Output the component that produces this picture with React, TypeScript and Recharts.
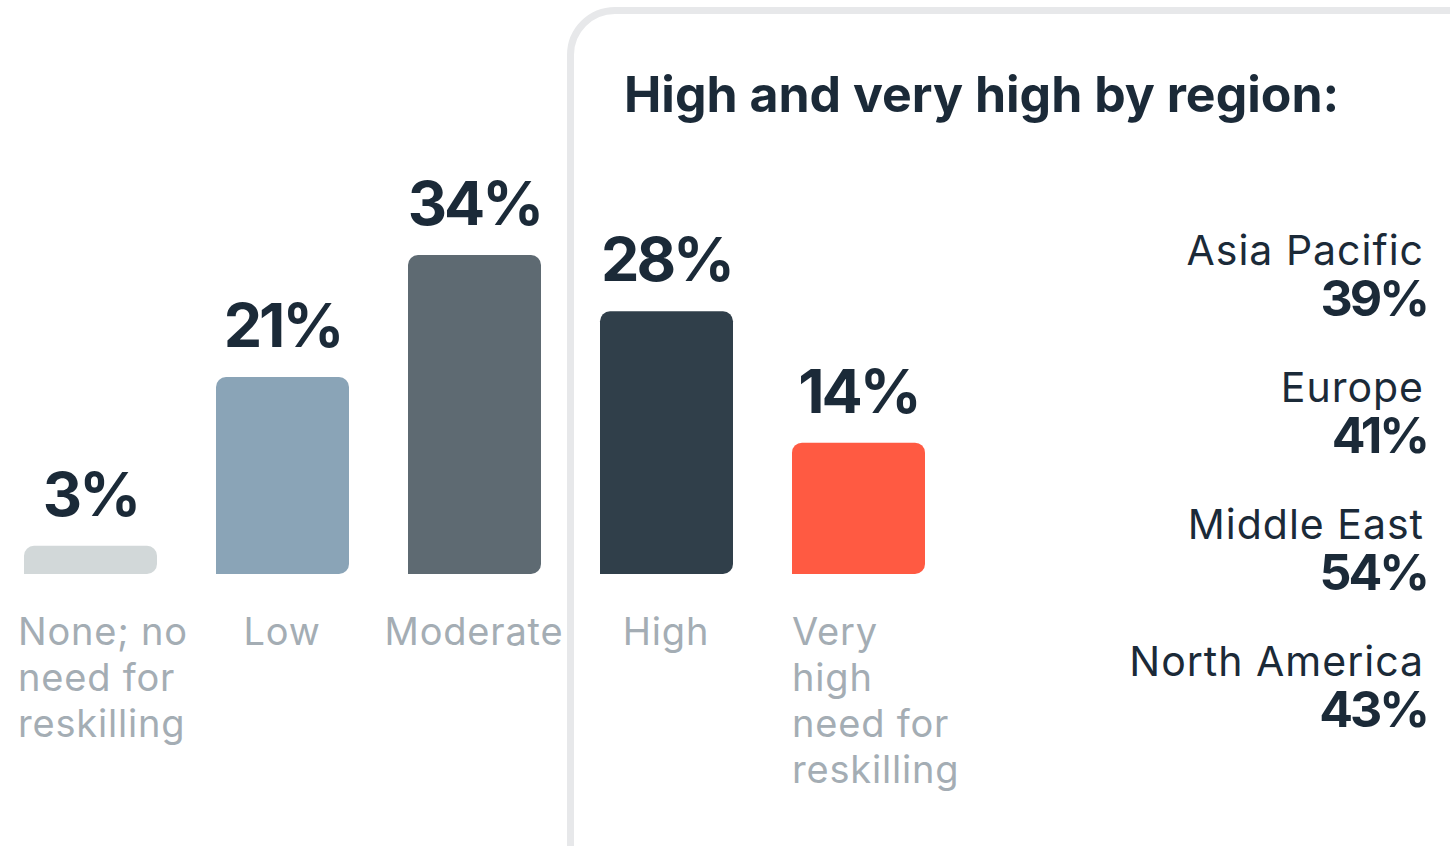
import React from "react";
import { BarChart, Bar, XAxis, YAxis, Cell, LabelList } from "recharts";

const categories = [
  "None; no\nneed for\nreskilling",
  "Low",
  "Moderate",
  "High",
  "Very\nhigh\nneed for\nreskilling",
];
const shares = [3, 21, 34, 28, 14];
const barColors = ["#d2d8d9", "#8aa4b7", "#5e6a72", "#303f4a", "#ff5a42"];

const regions = ["Asia Pacific", "Europe", "Middle East", "North America"];
const regionShares = [39, 41, 54, 43];

const data = categories.map((category, i) => ({
  category,
  value: shares[i],
}));

const ink = "#1b2a38";
const font = "Inter, 'Noto Sans', sans-serif";

function CategoryTick(props: any) {
  const { x, y, payload, index } = props;
  const lines = String(payload.value).split("\n");
  const multi = lines.length > 1;
  // wrapped labels sit left-aligned near the bar's left edge
  const tx = multi ? x - (index === 0 ? 72 : 66) : x;
  return (
    <text
      x={tx}
      y={y + 69}
      textAnchor={multi ? "start" : "middle"}
      fill="#a4adb4"
      fontSize={38}
      letterSpacing={0.8}
      fontFamily={font}
    >
      {lines.map((line, i) => (
        <tspan key={i} x={tx} dy={i === 0 ? 0 : 46}>
          {line}
        </tspan>
      ))}
    </text>
  );
}

export default function App() {
  return (
    <div
      style={{
        position: "fixed",
        left: 0,
        top: 0,
        width: 1450,
        height: 846,
        overflow: "hidden",
        background: "#fff",
        fontFamily: font,
      }}
    >
      {/* region panel frame */}
      <div
        style={{
          position: "absolute",
          left: 567,
          top: 7,
          width: 1000,
          height: 1000,
          border: "7px solid #e7e8ea",
          borderRadius: 48,
          boxSizing: "border-box",
        }}
      />

      <div style={{ position: "absolute", left: -6, top: 0 }}>
        <BarChart
          width={972}
          height={846}
          data={data}
          margin={{ top: 255, right: 12, bottom: 0, left: 0 }}
        >
          <XAxis
            dataKey="category"
            axisLine={false}
            tickLine={false}
            tickSize={0}
            interval={0}
            height={272}
            tick={<CategoryTick />}
          />
          <YAxis hide domain={[0, 34]} />
          <Bar
            dataKey="value"
            barSize={133}
            radius={[10, 10, 10, 0]}
            isAnimationActive={false}
          >
            {data.map((d, i) => (
              <Cell key={d.category} fill={barColors[i]} />
            ))}
            <LabelList
              dataKey="value"
              position="top"
              offset={30}
              formatter={(v: any) => `${v}%`}
              fill={ink}
              fontSize={61}
              fontWeight={700}
              letterSpacing={-3}
              fontFamily={font}
            />
          </Bar>
        </BarChart>
      </div>

      <svg
        width={1450}
        height={846}
        style={{ position: "absolute", left: 0, top: 0 }}
      >
        <text
          x={624}
          y={112}
          fill={ink}
          fontSize={50}
          fontWeight={700}
          fontFamily={font}
        >
          High and very high by region:
        </text>
        {regions.map((r, i) => (
          <g key={r}>
            <text
              x={1424}
              y={265 + i * 137}
              textAnchor="end"
              fill={ink}
              fontSize={41}
              letterSpacing={1}
              fontFamily={font}
            >
              {r}
            </text>
            <text
              x={1427}
              y={316 + i * 137}
              textAnchor="end"
              fill={ink}
              fontSize={50}
              fontWeight={700}
              letterSpacing={-3}
              fontFamily={font}
            >
              {`${regionShares[i]}%`}
            </text>
          </g>
        ))}
      </svg>
    </div>
  );
}
